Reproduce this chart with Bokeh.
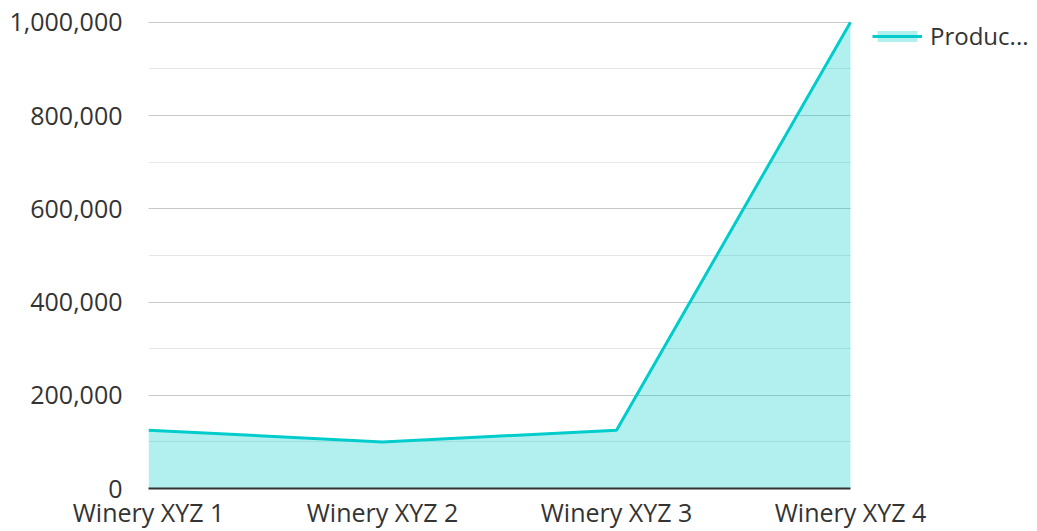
from bokeh.plotting import figure
from bokeh.models import (Range1d, FixedTicker, SingleIntervalTicker, NumeralTickFormatter,
                          Legend, LegendItem, ColumnDataSource)
from bokeh.embed import file_html
from bokeh.resources import INLINE

categories = ["Winery XYZ 1", "Winery XYZ 2", "Winery XYZ 3", "Winery XYZ 4"]
production = [125000, 100000, 125000, 1000000]
series_name = "Produc..."

x = list(range(len(categories)))
src = ColumnDataSource(dict(x=x, y=production, base=[0] * len(x)))

FONT = "Open Sans"
TEXT = "#333333"
TEAL = "#00CCCC"
FS = "25px"

W, H = 1037, 531
LEFT, TOP, BOTTOM = 148, 12, 42
PLOT_W = 702  # width of the drawn plot area; the rest on the right holds the legend
last = len(categories) - 1
x_end = last * (W - LEFT) / PLOT_W
y_max = 1000000
y_end = 1021000  # small headroom above the top tick so the legend can sit higher

p = figure(width=W, height=H, output_backend="svg", toolbar_location=None,
           x_range=Range1d(0, x_end), y_range=Range1d(0, y_end),
           min_border_left=LEFT, min_border_right=0, min_border_top=TOP, min_border_bottom=BOTTOM)
p.outline_line_color = None
p.background_fill_color = "white"
p.border_fill_color = "white"

area = p.varea(x="x", y1="base", y2="y", source=src, fill_color=TEAL, fill_alpha=0.3)
line = p.line(x="x", y="y", source=src, line_color=TEAL, line_width=3)

# x axis
p.xaxis.ticker = FixedTicker(ticks=x)
p.xaxis.bounds = (0, last)
p.xaxis.major_label_overrides = {i: c for i, c in enumerate(categories)}
p.xaxis.major_tick_line_color = None
p.xaxis.minor_tick_line_color = None
p.xaxis.major_tick_out = 0
p.xaxis.major_tick_in = 0
p.xaxis.minor_tick_out = 0
p.xaxis.axis_line_color = "#333333"
p.xaxis.axis_line_width = 2
p.xaxis.major_label_text_font = FONT
p.xaxis.major_label_text_font_size = FS
p.xaxis.major_label_text_color = TEXT
p.xaxis.major_label_standoff = 6

# y axis
p.yaxis.ticker = SingleIntervalTicker(interval=200000, num_minor_ticks=2)
p.yaxis.bounds = (0, y_max)
p.yaxis.formatter = NumeralTickFormatter(format="0,0")
p.yaxis.axis_line_color = None
p.yaxis.major_tick_line_color = None
p.yaxis.minor_tick_line_color = None
p.yaxis.major_tick_out = 0
p.yaxis.major_tick_in = 0
p.yaxis.minor_tick_out = 0
p.yaxis.major_label_text_font = FONT
p.yaxis.major_label_text_font_size = FS
p.yaxis.major_label_text_color = TEXT
p.yaxis.major_label_standoff = 26

p.xgrid.grid_line_color = None
p.ygrid.cross_bounds = (0, last)
p.ygrid.grid_line_color = "#c8c8c8"
p.ygrid.grid_line_width = 1
p.ygrid.minor_grid_line_color = "#e6e6e6"
p.ygrid.minor_grid_line_width = 1

legend = Legend(items=[LegendItem(label=series_name, renderers=[area, line])],
                location=(724, 436), orientation="vertical",
                border_line_color=None, background_fill_alpha=0,
                padding=0, margin=0, glyph_width=50, glyph_height=14,
                label_standoff=8, label_text_font=FONT, label_text_font_size="24px",
                label_text_color=TEXT)
p.add_layout(legend, "center")

open("out.html", "w").write(file_html(p, INLINE))
